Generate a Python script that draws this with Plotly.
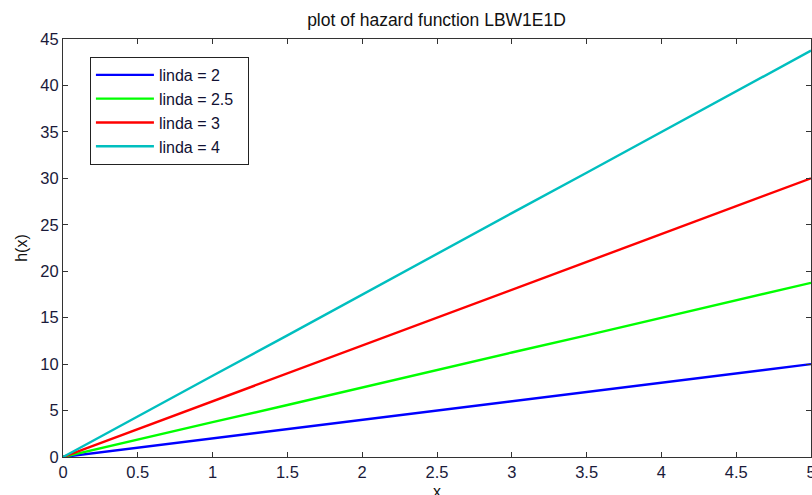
import plotly.graph_objects as go

x_vals = [0, 0.5, 1, 1.5, 2, 2.5, 3, 3.5, 4, 4.5, 5]
labels = ["linda = 2", "linda = 2.5", "linda = 3", "linda = 4"]
h_l2 = [0, 1.0, 2.0, 3.0, 4.0, 5.0, 6.0, 7.0, 8.0, 9.0, 10.0]
h_l25 = [0, 1.9, 3.75, 5.6, 7.5, 9.4, 11.25, 13.1, 15.0, 16.9, 18.75]
h_l3 = [0, 3.0, 6.0, 9.0, 12.0, 15.0, 18.0, 21.0, 24.0, 27.0, 30.0]
h_l4 = [0, 4.4, 8.75, 13.1, 17.5, 21.9, 26.25, 30.6, 35.0, 39.4, 43.75]
colors = ["#0000FF", "#00FF00", "#FF0000", "#00BFBF"]
x_ticks = [0, 0.5, 1, 1.5, 2, 2.5, 3, 3.5, 4, 4.5, 5]
y_ticks = [0, 5, 10, 15, 20, 25, 30, 35, 40, 45]

FONT = "Liberation Sans, Arial, sans-serif"

fig = go.Figure()
for lab, ys, c in zip(labels, [h_l2, h_l25, h_l3, h_l4], colors):
    fig.add_trace(go.Scatter(x=x_vals, y=ys, mode="lines",
                             name=lab + "\u00a0\u00a0",
                             line=dict(color=c, width=2.4)))

axis_common = dict(
    showline=True, linecolor="#333333", linewidth=1, mirror="ticks",
    ticks="inside", ticklen=5, tickcolor="#333333", showgrid=False,
    zeroline=False, ticklabeloverflow="allow", automargin=False,
    tickfont=dict(family=FONT, size=16.5, color="#1a1a3a"),
)

fig.update_layout(
    width=812, height=495,
    margin=dict(l=63, r=1, t=39, b=38),
    paper_bgcolor="white", plot_bgcolor="white",
    title=dict(text="plot of hazard function LBW1E1D", x=0.5376, xanchor="center",
               y=0.96, yanchor="middle",
               font=dict(family=FONT, size=17.5, color="#111111")),
    xaxis=dict(range=[0, 5], tickvals=x_ticks, **axis_common),
    yaxis=dict(range=[0, 45], tickvals=y_ticks, title=dict(text="h(x)", standoff=8,
               font=dict(family=FONT, size=16, color="#111111")), **axis_common),
    legend=dict(x=0.036, y=0.957, xanchor="left", yanchor="top",
                bordercolor="#222222", borderwidth=1, bgcolor="white",
                font=dict(family=FONT, size=16, color="#111133"),
                itemwidth=58, tracegroupgap=0),
    showlegend=True,
    annotations=[dict(text="x", xref="paper", yref="paper", x=0.5, y=-0.082,
                      xanchor="center", yanchor="middle", showarrow=False,
                      font=dict(family=FONT, size=16, color="#111111"))],
)

fig.write_html("out.html")
